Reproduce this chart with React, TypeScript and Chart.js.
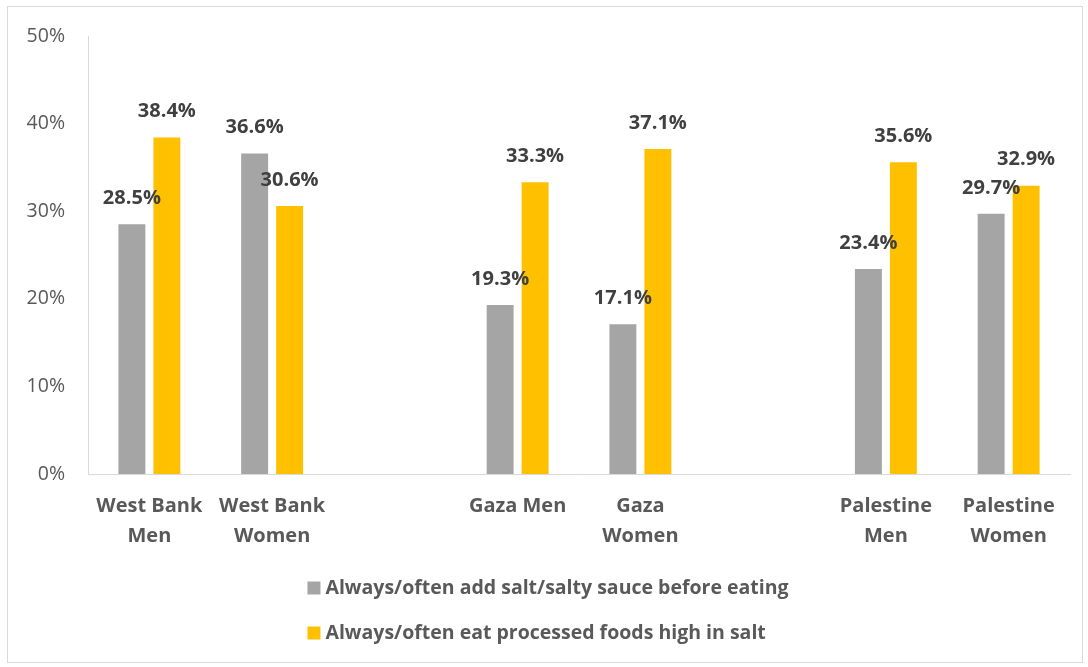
import React, { useEffect, useRef } from "react";
import { Chart, registerables } from "chart.js";

Chart.register(...registerables);

const categories: (string | string[])[] = [
  ["West Bank", "Men"],
  ["West Bank", "Women"],
  "",
  ["Gaza Men"],
  ["Gaza", "Women"],
  "",
  ["Palestine", "Men"],
  ["Palestine", "Women"],
];

const seriesNames = [
  "Always/often add salt/salty sauce before eating",
  "Always/often eat processed foods high in salt",
];

const addSalt: (number | null)[] = [28.5, 36.6, null, 19.3, 17.1, null, 23.4, 29.7];
const processedFoods: (number | null)[] = [38.4, 30.6, null, 33.3, 37.1, null, 35.6, 32.9];

const yTicks = [0, 10, 20, 30, 40, 50];

const colors = ["#A5A5A5", "#FFC000"];
const FONT = "'Open Sans', sans-serif";

const dataLabelPlugin = {
  id: "dataLabels",
  afterDatasetsDraw(chart: any) {
    const ctx = chart.ctx;
    ctx.save();
    ctx.font = `bold 20px ${FONT}`;
    ctx.fillStyle = "#404040";
    ctx.textAlign = "center";
    ctx.textBaseline = "middle";
    chart.data.datasets.forEach((ds: any, di: number) => {
      const meta = chart.getDatasetMeta(di);
      meta.data.forEach((el: any, i: number) => {
        const v = ds.data[i];
        if (v === null || v === undefined) return;
        ctx.fillText(v.toFixed(1) + "%", el.x, el.y - 26);
      });
    });
    ctx.restore();
  },
};

const legendPlugin = {
  id: "customLegend",
  afterDraw(chart: any) {
    const ctx = chart.ctx;
    ctx.save();
    ctx.font = `bold 19.5px ${FONT}`;
    const box = 13;
    const gap = 5;
    const widths = seriesNames.map((n) => ctx.measureText(n).width);
    const total = box + gap + Math.max(...widths);
    const x0 = (chart.width - total) / 2 + 3;
    const firstY = chart.chartArea.bottom + 114;
    const spacing = 45;
    ctx.textBaseline = "middle";
    ctx.textAlign = "left";
    seriesNames.forEach((n, i) => {
      const cy = firstY + i * spacing;
      ctx.fillStyle = colors[i];
      ctx.fillRect(x0, cy - box / 2, box, box);
      ctx.fillStyle = "#595959";
      ctx.fillText(n, x0 + box + gap, cy);
    });
    ctx.restore();
  },
};

export default function App() {
  const ref = useRef<HTMLCanvasElement>(null);
  useEffect(() => {
    if (!ref.current) return;
    const chart = new Chart(ref.current, {
      type: "bar",
      data: {
        labels: categories,
        datasets: [
          {
            label: seriesNames[0],
            data: addSalt,
            backgroundColor: colors[0],
            borderWidth: 0,
            categoryPercentage: 0.57,
            barPercentage: 0.77,
          },
          {
            label: seriesNames[1],
            data: processedFoods,
            backgroundColor: colors[1],
            borderWidth: 0,
            categoryPercentage: 0.57,
            barPercentage: 0.77,
          },
        ],
      },
      options: {
        animation: false,
        responsive: true,
        maintainAspectRatio: false,
        layout: { padding: { left: 0, right: 12, top: 29, bottom: 118 } },
        plugins: {
          legend: { display: false },
          tooltip: { enabled: false },
        },
        scales: {
          x: {
            grid: { display: false, drawTicks: false },
            border: { display: true, color: "#D9D9D9", width: 1 },
            ticks: {
              color: "#595959",
              font: { family: FONT, size: 20, weight: "bold", lineHeight: 1.5 },
              padding: 17,
              maxRotation: 0,
              autoSkip: false,
            },
            afterFit(scale: any) {
              scale.height = 70;
              scale.paddingLeft = 0;
              scale.paddingRight = 0;
            },
          },
          y: {
            min: 0,
            max: 50,
            afterBuildTicks(scale: any) {
              scale.ticks = yTicks.map((v) => ({ value: v }));
            },
            grid: { display: false, drawTicks: false },
            border: { display: true, color: "#D9D9D9", width: 1 },
            ticks: {
              color: "#595959",
              font: { family: FONT, size: 19.5 },
              padding: 23,
              callback: (v: any) => v + "%",
            },
            afterFit(scale: any) {
              scale.width = 80;
              scale.paddingTop = 0;
              scale.paddingBottom = 0;
            },
          },
        },
      },
      plugins: [dataLabelPlugin, legendPlugin],
    });
    return () => chart.destroy();
  }, []);

  return (
    <div
      style={{
        position: "absolute",
        left: 7,
        top: 6,
        width: 1076,
        height: 657,
        border: "1px solid #D9D9D9",
        boxSizing: "border-box",
        background: "#fff",
      }}
    >
      <div style={{ position: "relative", width: 1074, height: 655 }}>
        <canvas ref={ref} />
      </div>
    </div>
  );
}
